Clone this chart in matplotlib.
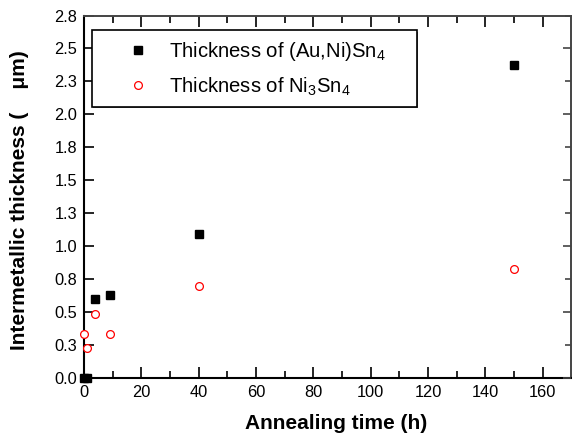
import matplotlib
matplotlib.use("Agg")
import matplotlib.pyplot as plt
from matplotlib.patches import Rectangle
import numpy as np

plt.rcParams['font.family'] = ['Liberation Sans', 'DejaVu Sans']
plt.rcParams['mathtext.fontset'] = 'custom'
plt.rcParams['mathtext.rm'] = 'Liberation Sans'
plt.rcParams['mathtext.it'] = 'Liberation Sans'

# Data
time_auni = [0, 1, 4, 9, 40, 150]
thick_auni = [0.0, 0.0, 0.60, 0.63, 1.095, 2.375]
time_ni = [0, 1, 4, 9, 40, 150]
thick_ni = [0.333, 0.23, 0.49, 0.333, 0.70, 0.826]
ytick_vals = [0, 0.25, 0.5, 0.75, 1.0, 1.25, 1.5, 1.75, 2.0, 2.25, 2.5, 2.75]
ytick_labels = ['0.0', '0.3', '0.5', '0.8', '1.0', '1.3', '1.5', '1.8', '2.0', '2.3', '2.5', '2.8']
xtick_vals = [0, 20, 40, 60, 80, 100, 120, 140, 160]
label_auni = 'Thickness of (Au,Ni)Sn$_4$'
label_ni = 'Thickness of Ni$_3$Sn$_4$'

fig = plt.figure(figsize=(5.72, 4.43), dpi=100)
ax = fig.add_axes([0.1469, 0.146, 0.852, 0.819])

ax.plot(time_auni, thick_auni, 's', color='black', markersize=5.8, label=label_auni, clip_on=False, zorder=5)
ax.plot(time_ni, thick_ni, 'o', markerfacecolor='white', markeredgecolor='red', markeredgewidth=0.9,
        markersize=5.6, label=label_ni, clip_on=False, zorder=5)

ax.set_xlim(0, 170)
ax.set_ylim(0, 2.75)
ax.set_xticks(xtick_vals)
ax.set_xticks(np.arange(10, 170, 20), minor=True)
ax.set_yticks(ytick_vals)
ax.set_yticklabels(ytick_labels)

ax.tick_params(axis='x', which='major', direction='in', length=8, width=1.2, top=True, labelsize=11.8, pad=5)
ax.tick_params(axis='x', which='minor', direction='in', length=5, width=1.2, top=True)
ax.tick_params(axis='y', which='major', direction='in', length=7, width=1.2, right=False, labelsize=11.8, pad=5)

ax2 = ax.twinx()
ax2.set_ylim(0, 2.75)
ax2.set_yticks(np.arange(0, 2.76, 0.5))
ax2.set_yticks(np.arange(0.25, 2.76, 0.5), minor=True)
ax2.tick_params(axis='y', which='major', direction='in', length=6, width=1.2, labelright=False, color='#444444')
ax2.tick_params(axis='y', which='minor', direction='in', length=4, width=1.2, color='#444444')
for s in ax2.spines.values():
    s.set_visible(False)

for s in ['left', 'bottom']:
    ax.spines[s].set_linewidth(1.5)
    ax.spines[s].set_color('black')
for s in ['top', 'right']:
    ax.spines[s].set_linewidth(1.4)
    ax.spines[s].set_color('#444444')

ax.set_xlabel('Annealing time (h)', fontsize=15, fontweight='bold')
ax.xaxis.set_label_coords(0.518, -0.099)
ax.set_ylabel('Intermetallic thickness (    μm)', fontsize=15, fontweight='bold')
ax.yaxis.set_label_coords(-0.113, 0.49)

# legend frame
shadow = Rectangle((0.0158 + 0.003, 0.749 - 0.005), 0.667, 0.211, transform=ax.transAxes,
                   facecolor='#777777', edgecolor='none', zorder=6)
frame = Rectangle((0.0158, 0.749), 0.667, 0.211, transform=ax.transAxes,
                  facecolor='white', edgecolor='black', linewidth=1.2, zorder=7)
ax.add_patch(shadow)
ax.add_patch(frame)

leg = ax.legend(loc='upper left', bbox_to_anchor=(0.0909, 0.932), frameon=False,
                fontsize=14.6, handlelength=1.0, handletextpad=1.0, borderpad=0,
                borderaxespad=0, labelspacing=0.6, markerscale=1.0)
leg.set_zorder(8)

fig.savefig('out.png', dpi=100)
